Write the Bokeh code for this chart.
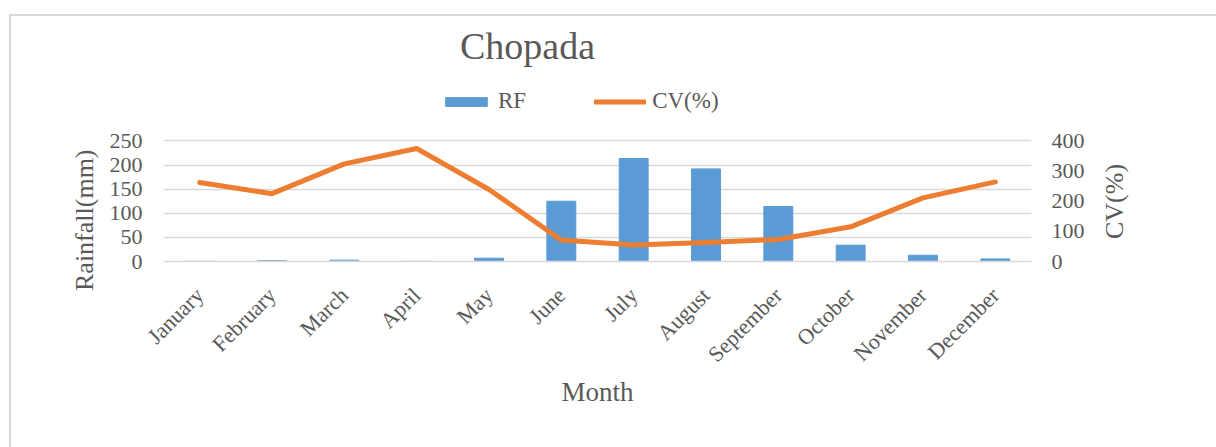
import math
from bokeh.plotting import figure
from bokeh.layouts import row
from bokeh.models import (Range1d, FactorRange, LinearAxis, FixedTicker, Legend, LegendItem, Label)
from bokeh.embed import file_html
from bokeh.resources import INLINE

months = ["January", "February", "March", "April", "May", "June", "July",
          "August", "September", "October", "November", "December"]
rainfall = [0.3, 1.5, 2.7, 0.3, 6.8, 125, 213.5, 192, 114, 33.8, 13, 5.4]
cv = [262, 225, 324, 375, 239, 71, 55, 63, 73, 115, 211, 264]
rf_ticks = [0, 50, 100, 150, 200, 250]
cv_ticks = [0, 100, 200, 300, 400]

TXT = "#595959"
FONT = "Liberation Serif"
NBSP = "\u00a0"
GRAD = "linear-gradient(#d9d9d9,#d9d9d9)"

# frame spans the full chart height so that title and legend can sit inside it;
# the visible value scale (0-250 / 0-400) occupies its lower part
RF_TOP = 508.0
CV_TOP = RF_TOP * 400 / 250

p = figure(width=1095, height=447, x_range=FactorRange(*months, range_padding=0),
           y_range=Range1d(0, RF_TOP), output_backend="svg", toolbar_location=None,
           title=None,
           min_border_left=163, min_border_right=64, min_border_top=16,
           min_border_bottom=186)
p.outline_line_color = None
p.border_fill_color = None
p.background_fill_color = None
p.styles = {"background": f"{GRAD} 9px 14px / 2px 100% no-repeat, "
                          f"{GRAD} 9px 14px / 100% 2px no-repeat"}
p.extra_y_ranges = {"cv": Range1d(0, CV_TOP)}

bars = p.vbar(x=months, top=rainfall, width=0.4, color="#5B9BD5")
line = p.line(x=months, y=cv, y_range_name="cv", line_width=5, color="#ED7D31",
              line_cap="round", line_join="round")

p.xgrid.grid_line_color = None
p.ygrid.grid_line_color = "#d9d9d9"
p.ygrid.grid_line_width = 1.3
p.yaxis.ticker = FixedTicker(ticks=rf_ticks)

right = LinearAxis(y_range_name="cv", ticker=FixedTicker(ticks=cv_ticks))
p.add_layout(right, "right")

for ax in [p.yaxis[0], right]:
    ax.axis_line_color = None
    ax.major_tick_line_color = None
    ax.minor_tick_line_color = None
    ax.major_label_text_font = FONT
    ax.major_label_text_font_size = "22px"
    ax.major_label_text_color = TXT
    ax.axis_label_text_font = FONT
    ax.axis_label_text_font_size = "26px"
    ax.axis_label_text_font_style = "normal"
    ax.axis_label_text_color = TXT

# trailing no-break spaces shift the centred axis title down beside the value scale
p.yaxis[0].axis_label = "Rainfall(mm)" + NBSP * 25
p.yaxis[0].major_label_standoff = 15
p.yaxis[0].axis_label_standoff = 8
right.major_label_standoff = 14

xa = p.xaxis[0]
xa.axis_label = "Month"
xa.axis_line_color = "#d9d9d9"
xa.axis_line_width = 1.3
xa.major_tick_line_color = None
xa.minor_tick_line_color = None
xa.major_label_orientation = math.pi / 4
xa.major_label_text_font = FONT
xa.major_label_text_font_size = "22px"
xa.major_label_text_color = TXT
xa.major_label_standoff = 24
xa.axis_label_text_font = FONT
xa.axis_label_text_font_size = "27px"
xa.axis_label_text_font_style = "normal"
xa.axis_label_text_color = TXT
xa.axis_label_standoff = -2

title = Label(x=364, y=216, x_units="screen", y_units="screen", text="Chopada",
              text_font=FONT, text_font_size="38px", text_color=TXT,
              text_align="center", text_baseline="alphabetic")
p.add_layout(title)

legend = Legend(items=[LegendItem(label="RF", renderers=[bars]),
                       LegendItem(label="CV(%)", renderers=[line])],
                location=(277, 147), orientation="horizontal",
                glyph_width=52, glyph_height=11, label_standoff=6, spacing=68,
                padding=0, margin=0, border_line_color=None, background_fill_alpha=0,
                label_text_font=FONT, label_text_font_size="23px", label_text_color=TXT)
p.add_layout(legend, "center")

# narrow strip on the right carrying the secondary axis title (reads bottom to top);
# its frame is aligned with the main frame (y 16..261)
p2 = figure(width=121, height=447, x_range=Range1d(0, 1), y_range=Range1d(0, 1),
            output_backend="svg", toolbar_location=None, title=None,
            x_axis_location=None, y_axis_location=None, min_border=0)
p2.grid.visible = False
p2.outline_line_color = None
p2.border_fill_color = None
p2.background_fill_color = None
p2.styles = {"background": f"{GRAD} 0px 14px / 100% 2px no-repeat"}
p2.add_layout(Label(x=19, y=60, x_units="screen", y_units="screen", text="CV(%)",
                    angle=math.pi / 2, text_font=FONT, text_font_size="26px",
                    text_color=TXT, text_align="center", text_baseline="middle"))

open("out.html", "w").write(file_html(row(p, p2, spacing=0), INLINE))
